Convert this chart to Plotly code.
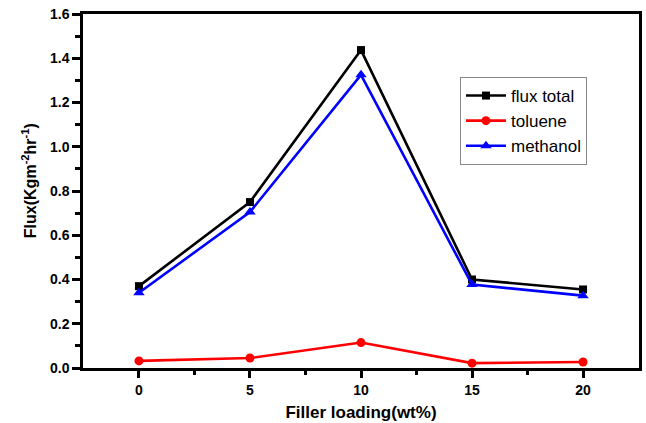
import plotly.graph_objects as go

filler = [0, 5, 10, 15, 20]
flux_total = [0.37, 0.75, 1.437, 0.40, 0.355]
toluene = [0.032, 0.045, 0.115, 0.022, 0.027]
methanol = [0.34, 0.705, 1.325, 0.377, 0.327]

fig = go.Figure()
fig.add_trace(go.Scatter(x=filler, y=flux_total, name="flux total", mode="lines+markers",
                         line=dict(color="black", width=2.6),
                         marker=dict(symbol="square", size=8, color="black")))
fig.add_trace(go.Scatter(x=filler, y=toluene, name="toluene", mode="lines+markers",
                         line=dict(color="#ff0000", width=2.6),
                         marker=dict(symbol="circle", size=9, color="#ff0000")))
fig.add_trace(go.Scatter(x=filler, y=methanol, name="methanol", mode="lines+markers",
                         line=dict(color="#0000ff", width=2.6),
                         marker=dict(symbol="triangle-up", size=10, color="#0000ff")))

font = "Arial, Liberation Sans, sans-serif"
fig.update_layout(
    width=646, height=423,
    margin=dict(l=83, r=7, t=14, b=55),
    paper_bgcolor="white", plot_bgcolor="white",
    font=dict(family=font, color="black"),
    legend=dict(x=0.678, y=0.822, xanchor="left", yanchor="top",
                bordercolor="#888888", borderwidth=1, bgcolor="white",
                font=dict(size=17, family=font), tracegroupgap=0,
                itemwidth=40),
    showlegend=True,
)
fig.update_xaxes(range=[-2.52, 22.52], tickvals=[0, 5, 10, 15, 20],
                 ticktext=["<b>0</b>", "<b>5</b>", "<b>10</b>", "<b>15</b>", "<b>20</b>"],
                 ticks="outside", ticklen=7, tickwidth=2.5, tickcolor="black",
                 minor=dict(tickvals=[2.5, 7.5, 12.5, 17.5], ticks="outside", ticklen=4, tickwidth=2.5, tickcolor="black"),
                 showline=True, linecolor="black", linewidth=2.5, mirror=True,
                 showgrid=False, zeroline=False, automargin=False,
                 tickfont=dict(size=14, family=font),
                 title=dict(text="<b>Filler loading(wt%)</b>", font=dict(size=17, family=font), standoff=10))
yt = [0, 0.2, 0.4, 0.6, 0.8, 1.0, 1.2, 1.4, 1.6]
fig.update_yaxes(range=[0, 1.6], tickvals=yt,
                 ticktext=[f"<b>{v:.1f}</b>" for v in yt],
                 ticks="outside", ticklen=8, tickwidth=2.5, tickcolor="black",
                 minor=dict(tickvals=[0.1, 0.3, 0.5, 0.7, 0.9, 1.1, 1.3, 1.5], ticks="outside", ticklen=5, tickwidth=2.5, tickcolor="black"),
                 showline=True, linecolor="black", linewidth=2.5, mirror=True,
                 showgrid=False, zeroline=False, automargin=False,
                 tickfont=dict(size=14, family=font))
fig.add_annotation(text="<b>Flux(Kgm<sup>-2</sup>hr<sup>-1</sup>)</b>", textangle=-90,
                   xref="paper", yref="paper", x=-0.097, y=0.528,
                   xanchor="center", yanchor="middle", showarrow=False,
                   font=dict(size=16, family=font, color="black"))

fig.write_html("out.html", config={"displayModeBar": False},
               post_script="document.body.style.margin='0';")
